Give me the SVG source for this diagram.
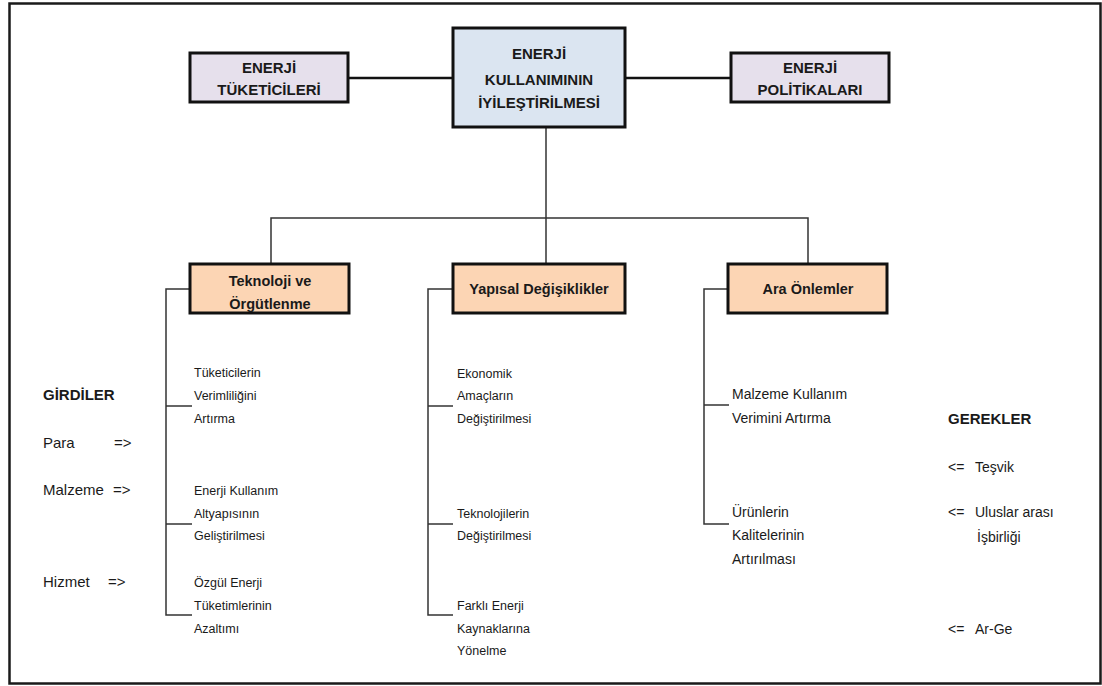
<svg xmlns="http://www.w3.org/2000/svg" width="1102" height="686" viewBox="0 0 1102 686">
<style>
.frame{fill:#fff;stroke:#1a1a1a;stroke-width:2.5}
.top{stroke:#111;stroke-width:3}
.l1{fill:#e6e0ec}
.c1{fill:#dbe5f1}
.l2{fill:#fcd5b4;stroke:#111;stroke-width:3}
.thick{stroke:#111;stroke-width:2.5;fill:none}
.thin{stroke:#333;stroke-width:1.5;fill:none}
.hd{font-family:"Liberation Sans",Arial,sans-serif;font-weight:bold;font-size:15px;fill:#1a1a1a;text-anchor:middle}
.h2{font-family:"Liberation Sans",Arial,sans-serif;font-weight:bold;font-size:14.5px;fill:#1a1a1a;text-anchor:middle}
.sm{font-family:"Liberation Sans",Arial,sans-serif;font-size:12.5px;fill:#1a1a1a}
.md{font-family:"Liberation Sans",Arial,sans-serif;font-size:14px;fill:#1a1a1a}
.lb{font-family:"Liberation Sans",Arial,sans-serif;font-size:15px;fill:#1a1a1a}
.bd{font-family:"Liberation Sans",Arial,sans-serif;font-size:15px;font-weight:bold;fill:#1a1a1a}
</style>
<rect class="frame" x="9.5" y="3.5" width="1091" height="680"/>
<g id="connectors">
<line class="thick" x1="348" y1="78" x2="453" y2="78"/>
<line class="thick" x1="625" y1="78" x2="731" y2="78"/>
<polyline class="thin" points="546,127 546,218"/>
<polyline class="thin" points="271,264 271,218 808,218 808,264"/>
<line class="thin" x1="546" y1="218" x2="546" y2="264"/>
<polyline class="thin" points="190,289 166,289 166,615 192,615"/>
<line class="thin" x1="166" y1="406" x2="192" y2="406"/>
<line class="thin" x1="166" y1="524" x2="192" y2="524"/>
<polyline class="thin" points="453,289 428,289 428,615 453,615"/>
<line class="thin" x1="428" y1="406" x2="453" y2="406"/>
<line class="thin" x1="428" y1="524" x2="453" y2="524"/>
<polyline class="thin" points="728,289 704,289 704,524 729,524"/>
<line class="thin" x1="704" y1="405" x2="729" y2="405"/>
</g>
<g id="enerji-tuketicileri">
<rect class="top l1" x="190" y="53" width="158" height="49"/>
<text class="hd" x="269" y="73">ENERJİ</text>
<text class="hd" x="269" y="95">TÜKETİCİLERİ</text>
</g>
<g id="enerji-kullanim">
<rect class="top c1" x="453" y="28" width="172" height="99"/>
<text class="hd" x="539" y="59">ENERJİ</text>
<text class="hd" x="539" y="85">KULLANIMININ</text>
<text class="hd" x="539" y="108">İYİLEŞTİRİLMESİ</text>
</g>
<g id="enerji-politikalari">
<rect class="top l1" x="731" y="53" width="158" height="49"/>
<text class="hd" x="810" y="73">ENERJİ</text>
<text class="hd" x="810" y="95">POLİTİKALARI</text>
</g>
<g id="teknoloji">
<rect class="l2" x="190" y="264" width="159" height="49"/>
<text class="h2" x="270" y="286">Teknoloji ve</text>
<text class="h2" x="270" y="309">Örgütlenme</text>
</g>
<g id="yapisal">
<rect class="l2" x="453" y="264" width="172" height="49"/>
<text class="h2" x="539" y="294">Yapısal Değişiklikler</text>
</g>
<g id="ara-onlemler">
<rect class="l2" x="728" y="264" width="159" height="49"/>
<text class="h2" x="808" y="294">Ara Önlemler</text>
</g>
<g id="teknoloji-items">
<text class="sm" x="194" y="377">Tüketicilerin</text>
<text class="sm" x="194" y="400">Verimliliğini</text>
<text class="sm" x="194" y="423">Artırma</text>
<text class="sm" x="194" y="495">Enerji Kullanım</text>
<text class="sm" x="194" y="518">Altyapısının</text>
<text class="sm" x="194" y="540">Geliştirilmesi</text>
<text class="sm" x="194" y="587">Özgül Enerji</text>
<text class="sm" x="194" y="610">Tüketimlerinin</text>
<text class="sm" x="194" y="633">Azaltımı</text>
</g>
<g id="yapisal-items">
<text class="sm" x="457" y="378">Ekonomik</text>
<text class="sm" x="457" y="400">Amaçların</text>
<text class="sm" x="457" y="423">Değiştirilmesi</text>
<text class="sm" x="457" y="518">Teknolojilerin</text>
<text class="sm" x="457" y="540">Değiştirilmesi</text>
<text class="sm" x="457" y="610">Farklı Enerji</text>
<text class="sm" x="457" y="633">Kaynaklarına</text>
<text class="sm" x="457" y="655">Yönelme</text>
</g>
<g id="ara-items">
<text class="md" x="732" y="399">Malzeme Kullanım</text>
<text class="md" x="732" y="423">Verimini Artırma</text>
<text class="md" x="732" y="517">Ürünlerin</text>
<text class="md" x="732" y="540">Kalitelerinin</text>
<text class="md" x="732" y="564">Artırılması</text>
</g>
<g id="girdiler">
<text class="bd" x="43" y="400">GİRDİLER</text>
<text class="lb" x="43" y="448">Para</text>
<text class="lb" x="114" y="448">=&gt;</text>
<text class="lb" x="43" y="495">Malzeme</text>
<text class="lb" x="113" y="495">=&gt;</text>
<text class="lb" x="43" y="587">Hizmet</text>
<text class="lb" x="108" y="587">=&gt;</text>
</g>
<g id="gerekler">
<text class="bd" x="948" y="424">GEREKLER</text>
<text class="md" x="948" y="472">&lt;=</text>
<text class="md" x="975" y="472">Teşvik</text>
<text class="md" x="948" y="517">&lt;=</text>
<text class="md" x="975" y="517">Uluslar arası</text>
<text class="md" x="977" y="542">İşbirliği</text>
<text class="md" x="948" y="634">&lt;=</text>
<text class="md" x="975" y="634">Ar-Ge</text>
</g>
</svg>
